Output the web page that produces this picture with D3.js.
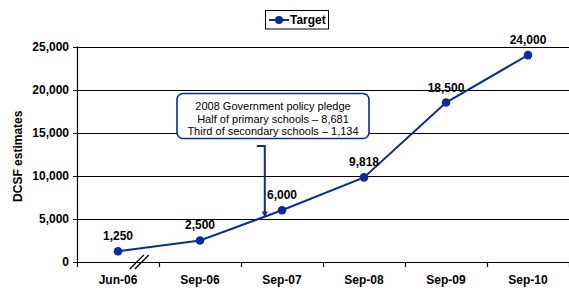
<!DOCTYPE html>
<html>
<head>
<meta charset="utf-8">
<script src="https://cdn.jsdelivr.net/npm/d3@7"></script>
<style>
  body { margin: 0; background: #fff; }
  svg { display: block; font-family: Arial, "Liberation Sans", sans-serif; }
</style>
</head>
<body>
<svg width="569" height="291"></svg>
<script>
var categories = ["Jun-06", "Sep-06", "Sep-07", "Sep-08", "Sep-09", "Sep-10"];
var targetValues = [1250, 2500, 6000, 9818, 18500, 24000];
var yTicks = [0, 5000, 10000, 15000, 20000, 25000];
var pledgeLines = ["2008 Government policy pledge", "Half of primary schools \u2013 8,681", "Third of secondary schools \u2013 1,134"];
var seriesName = "Target";

var svg = d3.select("svg"),
    width = +svg.attr("width"),
    height = +svg.attr("height");

var blue = "#0b2a9e";
var fmt = d3.format(",");

var x = d3.scaleBand().domain(categories).range([77, 569]);
var y = d3.scaleLinear().domain([0, 25000]).range([262, 46.5]);
var bw = x.bandwidth();

var data = categories.map(function(c, i) { return { cat: c, value: targetValues[i] }; });

// gridlines
svg.append("g").selectAll("line")
  .data(yTicks)
  .enter().append("line")
  .attr("x1", 73).attr("x2", width)
  .attr("y1", function(d) { return Math.round(y(d)) + 0.5; })
  .attr("y2", function(d) { return Math.round(y(d)) + 0.5; })
  .attr("stroke", "#000").attr("stroke-width", 1.2);

// y axis line
svg.append("line")
  .attr("x1", 77.5).attr("x2", 77.5)
  .attr("y1", y(25000)).attr("y2", y(0))
  .attr("stroke", "#000").attr("stroke-width", 1.2);

// y tick labels
svg.append("g").selectAll("text")
  .data(yTicks)
  .enter().append("text")
  .attr("x", 69)
  .attr("y", function(d) { return y(d) + 4; })
  .attr("text-anchor", "end")
  .style("font-size", "12px").style("font-weight", "bold")
  .text(function(d) { return fmt(d); });

// x ticks at band edges
var edges = categories.map(function(c) { return x(c); }).concat([x(categories[categories.length - 1]) + bw]);
svg.append("g").selectAll("line")
  .data(edges)
  .enter().append("line")
  .attr("x1", function(d) { return Math.round(d) + 0.5; })
  .attr("x2", function(d) { return Math.round(d) + 0.5; })
  .attr("y1", y(0)).attr("y2", y(0) + 5)
  .attr("stroke", "#000").attr("stroke-width", 1.2);

// x labels
svg.append("g").selectAll("text")
  .data(categories)
  .enter().append("text")
  .attr("x", function(d) { return x(d) + bw / 2; })
  .attr("y", 284)
  .attr("text-anchor", "middle")
  .style("font-size", "12px").style("font-weight", "bold")
  .text(function(d) { return d; });

// axis break marks between first two categories
var bx = x(categories[0]) + bw * 0.76;
[-2.5, 2.5].forEach(function(off) {
  svg.append("line")
    .attr("x1", bx + off - 7).attr("y1", y(0) + 7)
    .attr("x2", bx + off + 7).attr("y2", y(0) - 7)
    .attr("stroke", "#000").attr("stroke-width", 1.2);
});

// y title
svg.append("text")
  .attr("transform", "translate(22," + ((y(0) + y(25000)) / 2 + 2) + ") rotate(-90)")
  .attr("text-anchor", "middle")
  .style("font-size", "12px").style("font-weight", "bold")
  .text("DCSF estimates");

// series line
var line = d3.line()
  .x(function(d) { return x(d.cat) + bw / 2; })
  .y(function(d) { return y(d.value); });

svg.append("path")
  .datum(data)
  .attr("d", line)
  .attr("fill", "none")
  .attr("stroke", blue).attr("stroke-width", 2);

svg.append("g").selectAll("circle")
  .data(data)
  .enter().append("circle")
  .attr("cx", function(d) { return x(d.cat) + bw / 2; })
  .attr("cy", function(d) { return y(d.value); })
  .attr("r", 4.3)
  .attr("fill", blue);

svg.append("g").selectAll("text")
  .data(data)
  .enter().append("text")
  .attr("x", function(d) { return x(d.cat) + bw / 2; })
  .attr("y", function(d) { return y(d.value) - 11; })
  .attr("text-anchor", "middle")
  .style("font-size", "12px").style("font-weight", "bold")
  .text(function(d) { return fmt(d.value); });

// pledge annotation: arrow to the line between Sep-06 and Sep-07
var t = 0.79;
var ax = x(categories[1]) + bw / 2 + t * bw;
var ay = y(targetValues[1] + t * (targetValues[2] - targetValues[1]));

svg.append("path")
  .attr("d", "M" + (ax - 8) + ",146 H" + ax + " V" + (ay - 4))
  .attr("fill", "none")
  .attr("stroke", blue).attr("stroke-width", 2);
svg.append("path")
  .attr("d", "M" + (ax - 3) + "," + (ay - 5) + " L" + (ax + 3) + "," + (ay - 5) + " L" + ax + "," + (ay + 1) + "Z")
  .attr("fill", blue);

var box = svg.append("g");
box.append("rect")
  .attr("x", 177).attr("y", 93.5)
  .attr("width", 192).attr("height", 45)
  .attr("rx", 6)
  .attr("fill", "#fff")
  .attr("stroke", blue).attr("stroke-width", 1.6);
box.selectAll("text")
  .data(pledgeLines)
  .enter().append("text")
  .attr("x", 273)
  .attr("y", function(d, i) { return 110 + i * 12.5; })
  .attr("text-anchor", "middle")
  .style("font-size", "11px")
  .text(function(d) { return d; });

// legend
var legend = svg.append("g");
legend.append("rect")
  .attr("x", 265.5).attr("y", 10.5)
  .attr("width", 63).attr("height", 18.5)
  .attr("fill", "#fff").attr("stroke", "#000").attr("stroke-width", 1);
legend.append("line")
  .attr("x1", 269).attr("x2", 289).attr("y1", 20).attr("y2", 20)
  .attr("stroke", blue).attr("stroke-width", 2);
legend.append("circle")
  .attr("cx", 279).attr("cy", 20).attr("r", 4)
  .attr("fill", blue);
legend.append("text")
  .attr("x", 290).attr("y", 24)
  .style("font-size", "12px").style("font-weight", "bold")
  .text(seriesName);
</script>
</body>
</html>
